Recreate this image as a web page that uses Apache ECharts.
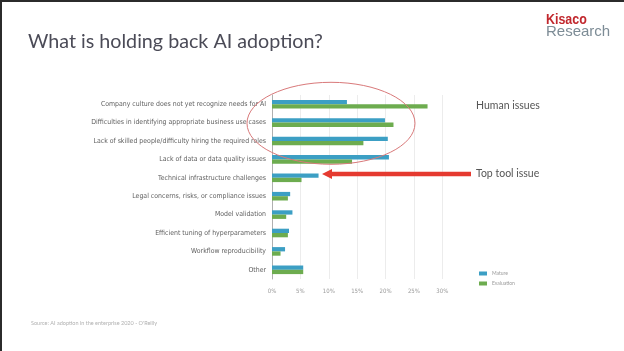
<!DOCTYPE html>
<html lang="en">
<head>
  <meta charset="UTF-8">
  <title>What is holding back AI adoption?</title>
  <script src="https://cdn.jsdelivr.net/npm/echarts@6/dist/echarts.min.js"></script>
</head>
<style>
    html, body { margin: 0; padding: 0; background: #fff; }
    #main { width: 624px; height: 351px; }
</style>
<body>
<div id="main"></div>
<script>
  let categories = [
    'Company culture does not yet recognize needs for AI',
    'Difficulties in identifying appropriate business use cases',
    'Lack of skilled people/difficulty hiring the required roles',
    'Lack of data or data quality issues',
    'Technical infrastructure challenges',
    'Legal concerns, risks, or compliance issues',
    'Model validation',
    'Efficient tuning of hyperparameters',
    'Workflow reproducibility',
    'Other'
  ]
  let mature = [13.2, 19.9, 20.4, 20.6, 8.2, 3.2, 3.6, 3.0, 2.3, 5.5]
  let evaluation = [27.4, 21.4, 16.1, 14.1, 5.2, 2.8, 2.5, 2.8, 1.5, 5.5]
  let seriesNames = ['Mature', 'Evaluation']

  const narrow = "'DejaVu Sans Condensed', Roboto, sans-serif"

  const chart = echarts.init(document.getElementById('main'))
  chart.setOption({
    animation: false,
    backgroundColor: '#fff',
    legend: {
      orient: 'vertical',
      left: 474,
      top: 266,
      itemWidth: 8,
      itemHeight: 4,
      itemGap: 5,
      icon: 'rect',
      textStyle: { color: '#9a9a9a', fontSize: 5, fontFamily: 'Lato' },
      data: seriesNames
    },
    grid: { left: 272, top: 95, width: 170.3, height: 184 },
    xAxis: {
      type: 'value',
      min: 0,
      max: 30,
      interval: 5,
      axisLine: { show: false },
      axisTick: { show: false },
      axisLabel: { formatter: '{value}%', color: '#9a9a9a', fontSize: 6, margin: 9, fontFamily: narrow },
      splitLine: { lineStyle: { color: '#ececec', width: 1 } }
    },
    yAxis: {
      type: 'category',
      inverse: true,
      data: categories,
      axisLine: { lineStyle: { color: '#b0b0b0', width: 1 } },
      axisTick: { show: false },
      axisLabel: { color: '#5e5e5e', fontSize: 6.9, margin: 6, fontFamily: narrow }
    },
    series: [
      {
        name: seriesNames[0],
        type: 'bar',
        data: mature,
        barWidth: 4.3,
        barGap: '0%',
        itemStyle: { color: '#3c9fc4' }
      },
      {
        name: seriesNames[1],
        type: 'bar',
        data: evaluation,
        barWidth: 4.3,
        barGap: '0%',
        itemStyle: { color: '#6dac4f' }
      }
    ],
    graphic: [
      // slide frame
      { type: 'rect', shape: { x: 0, y: 0, width: 624, height: 2 }, style: { fill: '#2b2b2b' } },
      { type: 'rect', shape: { x: 0, y: 0, width: 2, height: 351 }, style: { fill: '#2b2b2b' } },
      {
        type: 'text', left: 28, top: 32,
        style: { text: 'What is holding back AI adoption?', fill: '#4b4b57', fontSize: 19.7, fontFamily: 'Lato' }
      },
      {
        type: 'text', x: 546, y: 12, scaleX: 0.83,
        style: { text: 'Kisaco', fill: '#c1272d', fontSize: 15, fontWeight: 'bold', fontFamily: 'Liberation Sans' }
      },
      {
        type: 'text', left: 546, top: 24,
        style: { text: 'Research', fill: '#7d8c96', fontSize: 15, fontFamily: 'Liberation Sans' }
      },
      {
        type: 'ellipse', z: 10,
        shape: { cx: 331, cy: 123.3, rx: 84, ry: 41 },
        style: { fill: 'none', stroke: '#d9797a', lineWidth: 1 }
      },
      {
        type: 'line', z: 10,
        shape: { x1: 471, y1: 174, x2: 330, y2: 174 },
        style: { stroke: '#e53a30', lineWidth: 4.5 }
      },
      {
        type: 'polygon', z: 10,
        shape: { points: [[322, 174], [332, 169], [332, 179]] },
        style: { fill: '#e53a30' }
      },
      {
        type: 'text', left: 476, top: 100,
        style: { text: 'Human issues', fill: '#555', fontSize: 10.5, fontFamily: 'Lato' }
      },
      {
        type: 'text', left: 476, top: 168,
        style: { text: 'Top tool issue', fill: '#555', fontSize: 10.5, fontFamily: 'Lato' }
      },
      {
        type: 'text', left: 31, top: 320,
        style: { text: "Source: AI adoption in the enterprise 2020 - O'Reilly", fill: '#b0b0b0', fontSize: 5.5, fontFamily: 'Lato' }
      }
    ]
  })
</script>
</body>
</html>
